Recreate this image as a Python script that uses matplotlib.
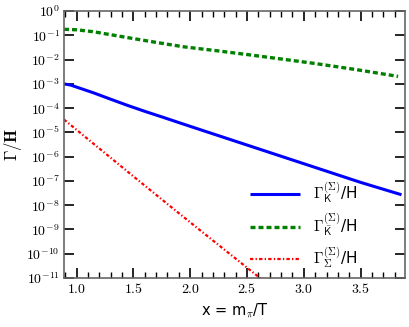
import matplotlib
matplotlib.use("Agg")
import matplotlib.pyplot as plt
import numpy as np
from matplotlib.ticker import MultipleLocator, FixedLocator, FuncFormatter

plt.rcParams['mathtext.fontset'] = 'cm'

# Data (x = m_pi/T, Gamma/H)
x_K = [0.89, 0.95, 1.0, 1.15, 1.3, 1.445, 1.6, 1.75, 2.0, 2.5, 3.0, 3.5, 3.86]
y_K = [1.0e-3, 8.9e-4, 7.4e-4, 4.27e-4, 2.34e-4, 1.32e-4, 7.41e-5, 4.37e-5, 1.78e-5, 3.02e-6, 5.13e-7, 8.71e-8, 2.69e-8]

x_Kbar = [0.89, 1.0, 1.15, 1.25, 1.36, 1.65, 1.94, 2.23, 2.52, 2.81, 3.1, 3.46, 3.83]
y_Kbar = [0.178, 0.170, 0.141, 0.117, 0.0955, 0.0562, 0.0339, 0.0234, 0.0158, 0.0105, 0.00692, 0.00389, 0.00204]

x_Sig = [0.89, 1.2, 1.5, 1.8, 2.1, 2.4, 2.62]
y_Sig = [3.39e-5, 2.19e-6, 1.55e-7, 1.12e-8, 8.3e-10, 6.3e-11, 9.5e-12]

labels = [r'$\Gamma_{\mathsf{K}}^{(\Sigma)}$/H',
          r'$\Gamma_{\bar{\mathsf{K}}}^{(\Sigma)}$/H',
          r'$\Gamma_{\Sigma}^{(\Sigma)}$/H']

fig = plt.figure(figsize=(4.09, 3.27), dpi=100)
ax = fig.add_axes([0.1565, 0.150, 0.8335, 0.816])

ax.semilogy(x_K, y_K, color='#0000ff', lw=2.2, solid_capstyle='butt', label=labels[0])
ax.semilogy(x_Kbar, y_Kbar, color='#008000', lw=2.4, dashes=(1.5, 0.9), label=labels[1])
ax.semilogy(x_Sig, y_Sig, color='#ff0000', lw=1.6, dashes=(1.5, 1.0, 0.6, 1.0), label=labels[2])

ax.set_xlim(0.89, 3.89)
ax.set_ylim(1e-11, 1)

ax.xaxis.set_major_locator(MultipleLocator(0.5))
ax.xaxis.set_minor_locator(MultipleLocator(0.1))
ax.xaxis.set_major_formatter(FuncFormatter(lambda v, p: r'$\mathbf{%.1f}$' % v))
ax.yaxis.set_major_locator(FixedLocator([10.0**k for k in range(-11, 1)]))
ax.yaxis.set_minor_locator(FixedLocator([]))
ax.yaxis.set_major_formatter(FuncFormatter(lambda v, p: r'$\mathbf{10^{%d}}$' % int(round(np.log10(v)))))

ax.tick_params(which='both', direction='in', top=True, right=True, labelsize=10, pad=3)
ax.tick_params(which='major', length=7, width=1.2)
ax.tick_params(which='minor', length=4, width=1.0)
for s in ax.spines.values():
    s.set_color('#666666')
    s.set_linewidth(1.2)

ax.set_ylabel(r'$\mathbf{\Gamma/H}$', fontsize=12, labelpad=2)
ax.set_xlabel(r'x = m$_\pi$/T', fontsize=10.5, family='DejaVu Sans', labelpad=4)

leg = ax.legend(loc='lower left', frameon=False, fontsize=11, handlelength=3.3,
                handletextpad=0.85, labelspacing=0.45, borderpad=0.0,
                bbox_to_anchor=(0.545, 0.03), borderaxespad=0.0)

fig.savefig('out.png', dpi=100)
